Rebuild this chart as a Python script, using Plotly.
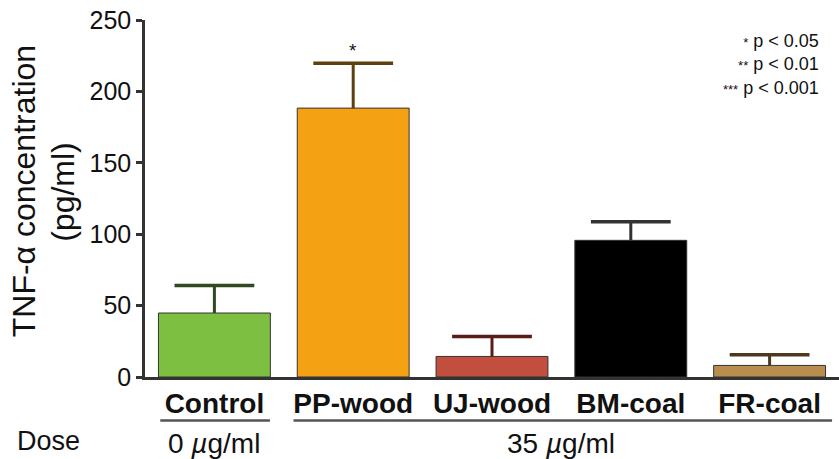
import plotly.graph_objects as go

categories = ["Control", "PP-wood", "UJ-wood", "BM-coal", "FR-coal"]
values = [44.8, 188.3, 14.4, 95.7, 8.1]
errors = [19.3, 31.5, 14.0, 13.1, 7.5]
bar_colors = ["#7cbf41", "#f4a113", "#c24e3d", "#000000", "#b98d4e"]
err_colors = ["#2f4a1e", "#5e3f0e", "#5a1c16", "#333333", "#4a3b1e"]
y_ticks = [0, 50, 100, 150, 200, 250]
sig_marks = ["", "*", "", "", ""]
legend_lines = [("*", "p < 0.05"), ("**", "p < 0.01"), ("***", "p < 0.001")]
dose_labels = [("0 <i>µ</i>g/ml", 0), ("35 <i>µ</i>g/ml", 2.5)]
y_title_lines = ["TNF-α concentration", "(pg/ml)"]

FONT = "Liberation Sans, Arial, Helvetica, sans-serif"
AX = "#333333"

fig = go.Figure()
for i, cat in enumerate(categories):
    fig.add_trace(go.Bar(
        x=[cat], y=[values[i]],
        marker=dict(color=bar_colors[i], line=dict(color="#333333", width=1)),
        error_y=dict(type="data", symmetric=False, array=[errors[i]], arrayminus=[0],
                     color=err_colors[i], thickness=3, width=0),
        showlegend=False,
    ))
    # cap of the error bar
    fig.add_trace(go.Scatter(
        x=[cat], y=[values[i] + errors[i]], mode="markers",
        marker=dict(symbol="line-ew", size=57, line=dict(color=err_colors[i], width=3.5)),
        showlegend=False, hoverinfo="skip",
    ))

annotations = []
for i, s in enumerate(sig_marks):
    if s:
        annotations.append(dict(x=categories[i], y=values[i] + errors[i], xref="x", yref="y",
                                text=s, showarrow=False, yanchor="bottom", yshift=0,
                                font=dict(family=FONT, size=19, color="#111")))
legend_text = "<br>".join(f"<span style='font-size:13px'>{s}</span> {t}" for s, t in legend_lines)
annotations.append(dict(xref="paper", yref="paper", x=0.974, y=0.876, text=legend_text,
                        showarrow=False, xanchor="right", yanchor="middle", align="right",
                        font=dict(family=FONT, size=18, color="#111")))
for k, line in enumerate(y_title_lines):
    annotations.append(dict(xref="paper", yref="paper", x=-0.175 + k * 0.057, y=0.519,
                            text=line, textangle=-90,
                            showarrow=False, xanchor="center", yanchor="middle",
                            font=dict(family=FONT, size=32, color="#111")))
annotations.append(dict(xref="paper", yref="paper", x=-0.187, y=-0.178, text="Dose",
                        showarrow=False, xanchor="left", yanchor="middle",
                        font=dict(family=FONT, size=27, color="#111")))
for txt, xpos in dose_labels:
    annotations.append(dict(xref="x", yref="paper", x=xpos, y=-0.185, text=txt,
                            showarrow=False, xanchor="center", yanchor="middle",
                            font=dict(family=FONT, size=28, color="#111")))

shapes = [
    dict(type="line", xref="x", yref="paper", x0=-0.39, x1=0.40, y0=-0.122, y1=-0.122,
         line=dict(color="#555555", width=2.5)),
    dict(type="line", xref="x", yref="paper", x0=0.57, x1=4.45, y0=-0.122, y1=-0.122,
         line=dict(color="#555555", width=2.5)),
]

fig.update_layout(
    width=839, height=459,
    margin=dict(l=145, r=0, t=20, b=82),
    plot_bgcolor="white", paper_bgcolor="white",
    barmode="overlay", bargap=0.194,
    annotations=annotations, shapes=shapes,
    font=dict(family=FONT, color="#111"),
)
fig.update_xaxes(
    type="category", range=[-0.5, 4.5],
    tickvals=categories, ticktext=[f"<b>{c}</b>" for c in categories],
    tickfont=dict(family=FONT, size=28, color="#111"),
    showline=True, linecolor=AX, linewidth=2.5, ticks="", showgrid=False,
    automargin=False,
)
fig.update_yaxes(
    range=[0, 250], tickvals=y_ticks, ticks="outside", ticklen=6, tickwidth=2.5,
    tickcolor=AX, showline=True, linecolor=AX, linewidth=2.5, showgrid=False,
    zeroline=False, tickfont=dict(family=FONT, size=25, color="#111"),
    automargin=False,
)

fig.write_html("out.html", config={"displayModeBar": False},
               post_script="document.body.style.margin='0';document.body.style.overflow='hidden';")
